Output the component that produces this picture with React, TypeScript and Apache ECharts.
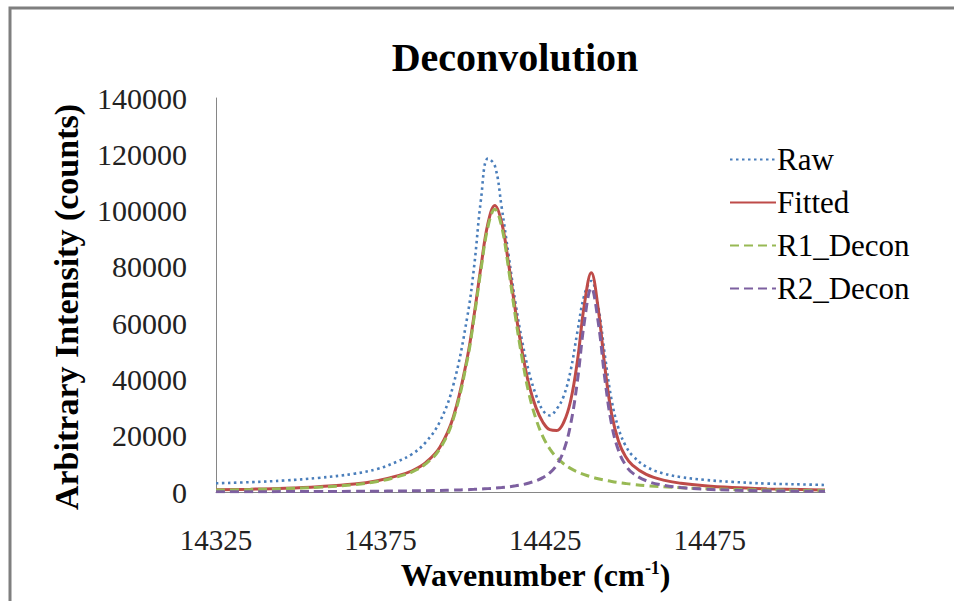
import React, { useEffect, useRef } from "react";
import * as echarts from "echarts";

const wavenumbers = [
  14325, 14335.5, 14346, 14356, 14367, 14374, 14380, 14384.6, 14388.8, 14393, 14397.1, 14401.3,
  14403.4, 14405.5, 14407.6, 14409.7, 14411.8, 14413.9, 14416, 14418.1, 14420.1, 14422.2, 14424.3, 14426.4,
  14428.5, 14430.6, 14432.7, 14434.8, 14436.9, 14439, 14441.1, 14443.2, 14445.2, 14447.3, 14449.4, 14451.5,
  14455.7, 14460.9, 14466.2, 14473.5, 14481.8, 14492.3, 14502.8, 14510,
];

const rawValues = [
  3100, 3500, 4100, 5000, 6500, 8200, 10800, 13500, 17800, 25000, 38000, 62000,
  80000, 104000, 118500, 116000, 101000, 84000, 67000, 53000, 42500, 34500, 29000, 27200,
  29500, 34000, 43000, 57000, 70000, 75000, 66000, 48000, 32500, 22500, 16500, 13000,
  9000, 6600, 5300, 4300, 3600, 3000, 2700, 2500,
];

const fittedValues = [
  772, 998, 1335, 1879, 2830, 4017, 5726, 7554, 10529, 15897, 26661, 47550,
  62822, 80120, 95335, 101838, 95717, 80912, 64073, 49339, 37961, 29976, 24804, 22151,
  21852, 24693, 32260, 46669, 66575, 77878, 65127, 43704, 27591, 17975, 12613, 9543,
  6258, 4230, 3098, 2188, 1587, 1138, 860, 729,
];

const r1Values = [
  680, 887, 1197, 1704, 2600, 3733, 5378, 7151, 10057, 15336, 25984, 46719,
  61888, 79066, 94136, 100470, 94136, 79066, 61888, 46719, 34761, 25984, 19690, 15336,
  12253, 10057, 8402, 7151, 6176, 5378, 4728, 4186, 3733, 3339, 3014, 2728,
  2266, 1842, 1517, 1197, 941, 719, 566, 493,
];

const r2Values = [
  92, 111, 138, 175, 230, 284, 348, 403, 472, 561, 677, 831,
  934, 1054, 1199, 1368, 1581, 1846, 2185, 2620, 3200, 3992, 5114, 6815,
  9599, 14636, 23858, 39518, 60399, 72500, 60399, 39518, 23858, 14636, 9599, 6815,
  3992, 2388, 1581, 991, 646, 419, 294, 236,
];

const seriesNames = ["Raw", "Fitted", "R1_Decon", "R2_Decon"];
const xTickLabels = [14325, 14375, 14425, 14475];

const FONT = "'Liberation Serif', 'Times New Roman', serif";

export default function App() {
  const ref = useRef<HTMLDivElement>(null);

  useEffect(() => {
    document.body.style.margin = "0";
    if (!ref.current) return;
    const chart = echarts.init(ref.current, null, { renderer: "svg" });
    const pairs = (vals: number[]) => wavenumbers.map((x, i) => [x, vals[i]]);

    chart.setOption({
      animation: false,
      backgroundColor: "#ffffff",
      textStyle: { fontFamily: FONT },
      title: {
        text: "Deconvolution",
        left: 510,
        top: 32,
        textAlign: "center",
        textStyle: { fontFamily: FONT, fontSize: 40, fontWeight: "bold", color: "#000" },
      },
      graphic: [
        {
          type: "rect",
          shape: { x: 10, y: 8, width: 970, height: 620 },
          style: { fill: "none", stroke: "#7f7f7f", lineWidth: 3 },
          silent: true,
        },
      ],
      legend: {
        orient: "vertical",
        left: 724,
        top: 139,
        itemWidth: 46,
        itemHeight: 12,
        itemGap: 12,
        itemStyle: { opacity: 0 },
        textStyle: { fontFamily: FONT, fontSize: 31, color: "#000", padding: [0, 0, 0, -4] },
        data: seriesNames,
      },
      grid: { left: 216, top: 98, width: 609, height: 394, containLabel: false },
      xAxis: {
        type: "value",
        min: 14325,
        max: 14510,
        name: "Wavenumber (cm{sup|-1})",
        nameLocation: "middle",
        nameGap: 60,
        nameTextStyle: {
          fontFamily: FONT,
          fontSize: 32,
          fontWeight: "bold",
          color: "#000",
          padding: [0, 0, 0, 30],
          rich: {
            sup: { fontFamily: FONT, fontSize: 18, fontWeight: "bold", color: "#000", verticalAlign: "top", padding: [0, 0, 14, 0] },
          },
        },
        axisLine: { show: true, lineStyle: { color: "#868686", width: 1 } },
        axisTick: { show: false },
        splitLine: { show: false },
        axisLabel: {
          customValues: xTickLabels,
          margin: 33,
          fontFamily: FONT,
          fontSize: 29,
          color: "#222",
          formatter: (v: number) => String(v),
        },
      },
      yAxis: {
        type: "value",
        min: 0,
        max: 140000,
        interval: 20000,
        name: "Arbitrary Intensity (counts)",
        nameLocation: "middle",
        nameRotate: 90,
        nameGap: 133,
        nameTextStyle: { fontFamily: FONT, fontSize: 34, fontWeight: "bold", color: "#000", padding: [0, 24, 0, 0] },
        axisLine: { show: true, lineStyle: { color: "#868686", width: 1 } },
        axisTick: { show: false },
        splitLine: { show: false },
        axisLabel: { margin: 29, fontFamily: FONT, fontSize: 30, color: "#222", formatter: (v: number) => String(v) },
      },
      series: [
        {
          name: "Raw",
          type: "line",
          data: pairs(rawValues),
          smooth: 0.4,
          showSymbol: false,
          symbol: "none",
          lineStyle: { color: "#4a7ebb", width: 2.6, type: [2.5, 3.5] },
          itemStyle: { color: "#4a7ebb" },
          z: 2,
        },
        {
          name: "Fitted",
          type: "line",
          data: pairs(fittedValues),
          smooth: 0.4,
          showSymbol: false,
          symbol: "none",
          lineStyle: { color: "#be4b48", width: 3 },
          itemStyle: { color: "#be4b48" },
          z: 3,
        },
        {
          name: "R1_Decon",
          type: "line",
          data: pairs(r1Values),
          smooth: 0.4,
          showSymbol: false,
          symbol: "none",
          lineStyle: { color: "#98b954", width: 3, type: [9, 5] },
          itemStyle: { color: "#98b954" },
          z: 4,
        },
        {
          name: "R2_Decon",
          type: "line",
          data: pairs(r2Values),
          smooth: 0.4,
          showSymbol: false,
          symbol: "none",
          lineStyle: { color: "#7d60a0", width: 3, type: [9, 5] },
          itemStyle: { color: "#7d60a0" },
          z: 5,
        },
      ],
    });

    return () => chart.dispose();
  }, []);

  return <div ref={ref} style={{ width: 954, height: 601 }} />;
}
